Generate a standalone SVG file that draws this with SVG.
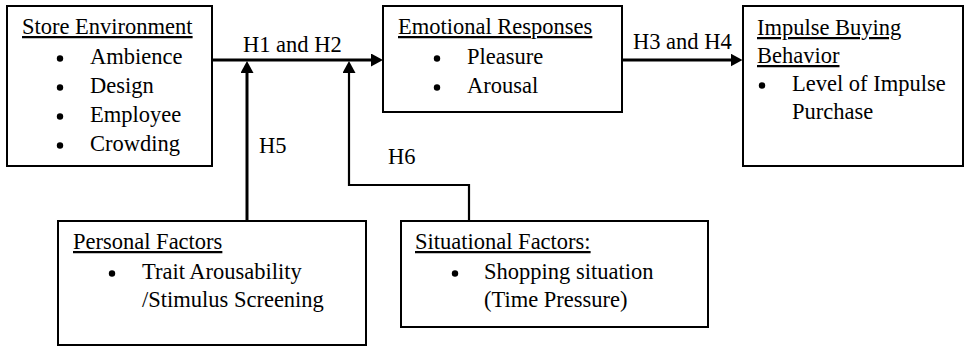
<svg xmlns="http://www.w3.org/2000/svg" width="965" height="346" viewBox="0 0 965 346">
<style>
.box{fill:#fff;stroke:#000;stroke-width:2}
text{font-family:"Liberation Serif","Times New Roman",serif;font-size:22.5px;fill:#000}
.u{text-decoration:underline}
.b{fill:#000}
.c{fill:none;stroke:#000;stroke-width:3}
.c2{fill:none;stroke:#000;stroke-width:2.2}
</style>
<defs>
<marker id="ah" viewBox="0 0 12 13" markerWidth="12" markerHeight="13" refX="0.5" refY="6.5" markerUnits="userSpaceOnUse" orient="auto">
<path d="M0,0 L12,6.5 L0,13 z" fill="#000"/>
</marker>
</defs>
<rect width="965" height="346" fill="#fff"/>
<g id="connectors">
<line class="c" x1="212" y1="60" x2="371.5" y2="60" marker-end="url(#ah)"/>
<line class="c" x1="622" y1="60" x2="731" y2="60" marker-end="url(#ah)"/>
<line class="c" x1="247" y1="221" x2="247" y2="72.5" marker-end="url(#ah)"/>
<polyline class="c2" points="469,221 469,185 349,185 349,72.5" marker-end="url(#ah)"/>
<text x="243" y="52">H1 and H2</text>
<text x="633" y="49">H3 and H4</text>
<text x="259" y="153">H5</text>
<text x="388" y="164">H6</text>
</g>
<g id="store">
<rect class="box" x="7" y="6" width="205" height="160"/>
<text class="u" x="22" y="34">Store Environment</text>
<circle class="b" cx="60" cy="58.5" r="3.2"/><text x="90" y="64">Ambience</text>
<circle class="b" cx="60" cy="87.5" r="3.2"/><text x="90" y="93">Design</text>
<circle class="b" cx="60" cy="116.5" r="3.2"/><text x="90" y="122">Employee</text>
<circle class="b" cx="60" cy="145.5" r="3.2"/><text x="90" y="151">Crowding</text>
</g>
<g id="emotional">
<rect class="box" x="383" y="6" width="239" height="106"/>
<text class="u" x="398" y="34">Emotional Responses</text>
<circle class="b" cx="437" cy="58.5" r="3.2"/><text x="467" y="64">Pleasure</text>
<circle class="b" cx="437" cy="87.5" r="3.2"/><text x="467" y="93">Arousal</text>
</g>
<g id="impulse">
<rect class="box" x="743" y="6" width="220" height="160"/>
<text class="u" x="757" y="35">Impulse Buying</text>
<text class="u" x="757" y="63">Behavior</text>
<circle class="b" cx="762" cy="85.5" r="3.2"/><text x="792" y="91">Level of Impulse</text>
<text x="792" y="119">Purchase</text>
</g>
<g id="personal">
<rect class="box" x="58" y="221" width="308" height="124"/>
<text class="u" x="73" y="249">Personal Factors</text>
<circle class="b" cx="112" cy="273.5" r="3.2"/><text x="142" y="279">Trait Arousability</text>
<text x="142" y="307">/Stimulus Screening</text>
</g>
<g id="situational">
<rect class="box" x="401" y="221" width="307" height="106"/>
<text class="u" x="415" y="249">Situational Factors:</text>
<circle class="b" cx="455" cy="273.5" r="3.2"/><text x="484" y="279">Shopping situation</text>
<text x="484" y="307">(Time Pressure)</text>
</g>
</svg>
